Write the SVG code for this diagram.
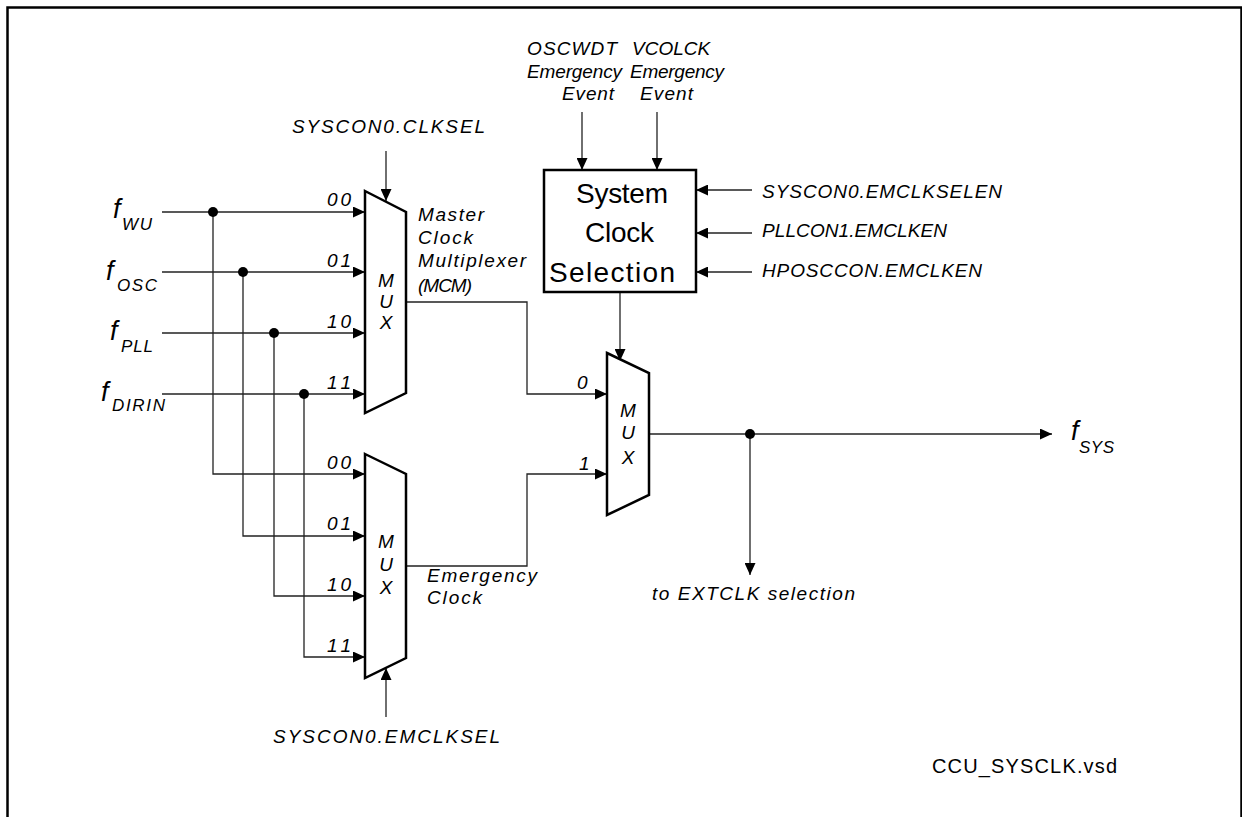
<svg xmlns="http://www.w3.org/2000/svg" width="1242" height="817" viewBox="0 0 1242 817">
<style>
.t{font-family:"Liberation Sans",Arial,sans-serif;font-style:italic;font-size:19px;fill:#000}
.n{font-family:"Liberation Sans",Arial,sans-serif;font-size:28px;fill:#000}
.f{font-family:"Liberation Sans",Arial,sans-serif;font-style:italic;font-size:27px;fill:#000}
.s{font-family:"Liberation Sans",Arial,sans-serif;font-style:italic;font-size:17px;fill:#000}
.m{font-family:"Liberation Sans",Arial,sans-serif;font-style:italic;font-size:19px;fill:#000;text-anchor:middle}
.w{fill:none;stroke:#222;stroke-width:1.3}
.a{fill:none;stroke:#222;stroke-width:1.3;marker-end:url(#ah)}
.mux{fill:#fff;stroke:#000;stroke-width:2.5;stroke-linejoin:miter}
</style>
<defs>
<marker id="ah" markerUnits="userSpaceOnUse" markerWidth="12" markerHeight="11" refX="12" refY="5.5" orient="auto">
<path d="M0,0 L12,5.5 L0,11 z" fill="#000"/>
</marker>
</defs>
<rect x="7.5" y="7.5" width="1234" height="830" fill="#fff" stroke="#000" stroke-width="2.5"/>

<g id="connectors">
<path class="a" d="M162,212 H365"/>
<path class="a" d="M162,272 H365"/>
<path class="a" d="M162,333 H365"/>
<path class="a" d="M162,394 H365"/>
<path class="a" d="M213,212 V474 H365"/>
<path class="a" d="M243,272 V536 H365"/>
<path class="a" d="M274,333 V596 H365"/>
<path class="a" d="M304,394 V657 H365"/>
<circle cx="213" cy="212" r="5" fill="#000"/>
<circle cx="243" cy="272" r="5" fill="#000"/>
<circle cx="274" cy="333" r="5" fill="#000"/>
<circle cx="304" cy="394" r="5" fill="#000"/>
<path class="a" d="M386,151 V201"/>
<path class="a" d="M386,717 V668"/>
<path class="a" d="M406,302 H527 V394 H607"/>
<path class="a" d="M406,566 H527 V474 H607"/>
<path class="a" d="M620,292 V361"/>
<path class="a" d="M582,112 V170"/>
<path class="a" d="M657,112 V170"/>
<path class="a" d="M752,190 H696"/>
<path class="a" d="M752,233 H696"/>
<path class="a" d="M752,272 H696"/>
<path class="a" d="M649,434 H1052"/>
<path class="a" d="M750,434 V575"/>
<circle cx="750" cy="434" r="5" fill="#000"/>
</g>

<g id="mux_mcm">
<polygon class="mux" points="365,191 406,212 406,393 365,413"/>
<text class="m" x="386" y="287">M</text>
<text class="m" x="386" y="308">U</text>
<text class="m" x="386" y="329">X</text>
<text class="t" x="327" y="206" textLength="24">00</text>
<text class="t" x="327" y="267" textLength="24">01</text>
<text class="t" x="327" y="328" textLength="24">10</text>
<text class="t" x="327" y="389" textLength="24">11</text>
</g>

<g id="mux_emergency">
<polygon class="mux" points="365,454 406,474 406,658 365,678"/>
<text class="m" x="386" y="548">M</text>
<text class="m" x="386" y="571">U</text>
<text class="m" x="386" y="594">X</text>
<text class="t" x="327" y="469" textLength="24">00</text>
<text class="t" x="327" y="530" textLength="24">01</text>
<text class="t" x="327" y="591" textLength="24">10</text>
<text class="t" x="327" y="652" textLength="24">11</text>
</g>

<g id="mux_sys">
<polygon class="mux" points="607,353 649,373 649,495 607,515"/>
<text class="m" x="628" y="417">M</text>
<text class="m" x="628" y="439">U</text>
<text class="m" x="628" y="464">X</text>
<text class="t" x="577" y="389">0</text>
<text class="t" x="579" y="470">1</text>
</g>

<g id="sys_clock_selection">
<rect x="544" y="170" width="152" height="122" fill="#fff" stroke="#000" stroke-width="2.5"/>
<text class="n" x="576" y="203" textLength="92">System</text>
<text class="n" x="585" y="242" textLength="69">Clock</text>
<text class="n" x="549" y="282" textLength="126">Selection</text>
</g>

<g id="labels">
<text class="f" x="113" y="218">f</text><text class="s" x="122" y="230" textLength="30">WU</text>
<text class="f" x="106" y="280">f</text><text class="s" x="117" y="291" textLength="40">OSC</text>
<text class="f" x="110" y="340">f</text><text class="s" x="121" y="352" textLength="32">PLL</text>
<text class="f" x="101" y="401">f</text><text class="s" x="112" y="411" textLength="53">DIRIN</text>
<text class="f" x="1071" y="440">f</text><text class="s" x="1079" y="453" textLength="35">SYS</text>
<text class="t" x="292" y="133" textLength="193">SYSCON0.CLKSEL</text>
<text class="t" x="273" y="743" textLength="227">SYSCON0.EMCLKSEL</text>
<text class="t" x="418" y="221" textLength="66">Master</text>
<text class="t" x="418" y="244" textLength="55">Clock</text>
<text class="t" x="418" y="267" textLength="108">Multiplexer</text>
<text class="t" x="418" y="292" textLength="54">(MCM)</text>
<text class="t" x="427" y="582" textLength="110">Emergency</text>
<text class="t" x="427" y="604" textLength="55">Clock</text>
<text class="t" x="527" y="55" textLength="90">OSCWDT</text>
<text class="t" x="527" y="78" textLength="95">Emergency</text>
<text class="t" x="562" y="100" textLength="52">Event</text>
<text class="t" x="632" y="55">VCOLCK</text>
<text class="t" x="630" y="78" textLength="94">Emergency</text>
<text class="t" x="640" y="100" textLength="53">Event</text>
<text class="t" x="762" y="198" textLength="240">SYSCON0.EMCLKSELEN</text>
<text class="t" x="762" y="237" textLength="185">PLLCON1.EMCLKEN</text>
<text class="t" x="762" y="277" textLength="220">HPOSCCON.EMCLKEN</text>
<text class="t" x="652" y="600" textLength="203">to EXTCLK selection</text>
<text class="n" x="932" y="773" style="font-size:20px" textLength="185">CCU_SYSCLK.vsd</text>
</g>
</svg>
